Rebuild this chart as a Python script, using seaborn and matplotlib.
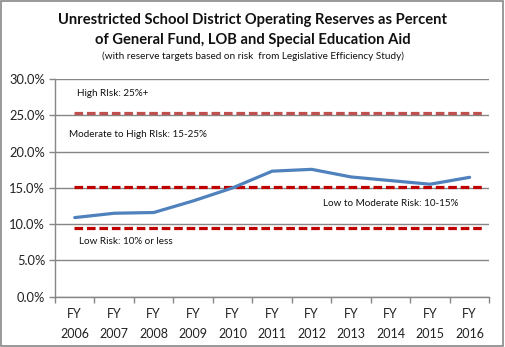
import matplotlib
matplotlib.use("Agg")
import matplotlib.pyplot as plt
import seaborn as sns
import pandas as pd
import numpy as np
from matplotlib.patches import Rectangle

years = ["FY\n2006", "FY\n2007", "FY\n2008", "FY\n2009", "FY\n2010", "FY\n2011",
         "FY\n2012", "FY\n2013", "FY\n2014", "FY\n2015", "FY\n2016"]
reserves = [10.9, 11.5, 11.6, 13.2, 15.0, 17.3, 17.55, 16.5, 16.0, 15.5, 16.45]

target_levels = [25.3, 15.15, 9.4]
target_colors = ["#C0504D", "#C00000", "#C00000"]
target_x = [-0.03, 10.34]

region_labels = ["High RIsk: 25%+", "Moderate to High RIsk: 15-25%",
                 "Low to Moderate Risk: 10-15%", "Low Risk: 10% or less"]
y_ticks = [0, 5, 10, 15, 20, 25, 30]

sns.set_style("white")
FONT = ["Lato", "DejaVu Sans"]
plt.rcParams["font.family"] = FONT

fig = plt.figure(figsize=(5.05, 3.47), dpi=100)
ax = fig.add_axes([0.1089, 0.1450, 0.969 - 0.1089, 0.7723 - 0.1450])

df = pd.DataFrame({"x": np.arange(len(years)), "y": reserves})
sns.lineplot(data=df, x="x", y="y", ax=ax, color="#4F81BD", linewidth=2.3, zorder=4)

for lvl, col in zip(target_levels, target_colors):
    ax.plot(target_x, [lvl, lvl], color=col, linewidth=2.3,
            dashes=(2.7, 1.2), solid_capstyle="butt", dash_capstyle="butt", zorder=3)

ax.set_xlim(-0.5, len(years) - 0.5)
ax.set_ylim(0, 30)
ax.set_yticks(y_ticks)
ax.set_yticklabels([f"{v:.1f}%" for v in y_ticks], fontsize=9.3, color="#222222")
ax.set_xticks(np.arange(len(years)))
ax.set_xticklabels(years, fontsize=9, color="#222222", linespacing=1.8)
ax.set_xlabel("")
ax.set_ylabel("")

ax.yaxis.grid(True, color="#868686", linewidth=1.0)
ax.set_axisbelow(True)
for s in ["top", "right"]:
    ax.spines[s].set_visible(False)
for s in ["left", "bottom"]:
    ax.spines[s].set_color("#868686")
    ax.spines[s].set_linewidth(1.0)

ax.tick_params(axis="y", length=4, width=1, color="#868686", pad=3, direction="out", left=True)
ax.tick_params(axis="x", which="major", length=0, pad=8, bottom=True)
ax.set_xticks(np.arange(len(years) + 1) - 0.5, minor=True)
ax.tick_params(axis="x", which="minor", length=4, width=1, color="#868686", direction="out", bottom=True)

lab_pos = [(0.0507, 0.9357), (0.032, 0.746), (0.616, 0.429), (0.055, 0.2527)]
for t, (xx, yy) in zip(region_labels, lab_pos):
    ax.text(xx, yy, t, transform=ax.transAxes, fontsize=7.1, color="#111111",
            ha="left", va="center")

fig.text(0.5, 1 - 20 / 347, "Unrestricted School District Operating Reserves as Percent",
         ha="center", va="center", fontsize=10.6, fontweight="bold", color="#111111")
fig.text(0.5, 1 - 40 / 347, "of General Fund, LOB and Special Education Aid",
         ha="center", va="center", fontsize=10.6, fontweight="bold", color="#111111")
fig.text(0.5, 1 - 56 / 347, "(with reserve targets based on risk  from Legislative Efficiency Study)",
         ha="center", va="center", fontsize=7.2, color="#111111")

fig.patches.append(Rectangle((0.001, 0.002), 0.996, 0.996, transform=fig.transFigure,
                             fill=False, edgecolor="#888888", linewidth=1.2))

fig.savefig("out.png", dpi=100)
